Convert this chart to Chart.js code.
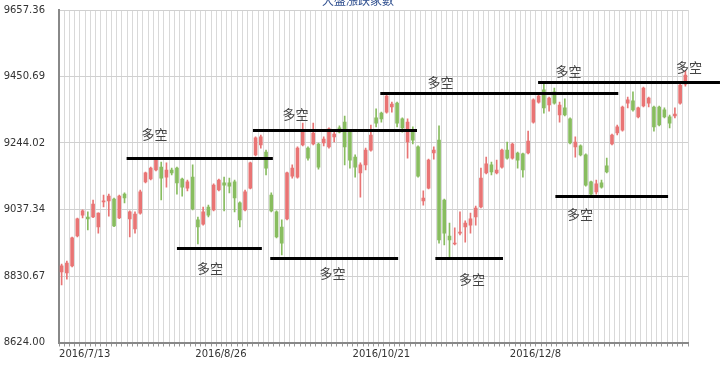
<!DOCTYPE html>
<html>
<head>
<meta charset="utf-8">
<script src="https://cdn.jsdelivr.net/npm/chart.js@4.4.1/dist/chart.umd.min.js"></script>
<style>
  html, body { margin: 0; padding: 0; background: #fff; }
</style>
</head>
<body>
<canvas id="chart" width="720" height="365"></canvas>
<script>
// daily candles, 120 sessions starting 2016/7/13
const opens  = [8843,8840,8862,8955,9020,9014,9014,8983,9061,9064,9070,9011,9085,9008,8977,9026,9123,9132,9160,9169,
                9138,9160,9166,9132,9104,9138,9005,8992,9045,9036,9098,9120,9120,9123,9058,9036,9104,9207,9238,9216,
                9082,9030,8983,9008,9141,9138,9238,9228,9241,9241,9244,9232,9263,9291,9309,9278,9200,9151,9176,9222,
                9322,9337,9340,9356,9368,9319,9247,9281,9232,9064,9104,9213,9253,9067,8955,8930,8964,8983,8989,9014,
                9045,9151,9176,9151,9169,9222,9197,9213,9210,9213,9309,9371,9409,9362,9403,9331,9353,9319,9232,9235,
                9207,9123,9092,9120,9173,9241,9275,9284,9368,9375,9325,9359,9368,9356,9356,9347,9325,9328,9368,9427]
const highs  = [8868,8877,8952,9011,9036,9030,9067,9027,9082,9085,9073,9082,9089,9033,9030,9098,9154,9169,9197,9185,
                9182,9166,9169,9135,9129,9176,9014,9045,9051,9117,9132,9138,9135,9129,9061,9098,9185,9263,9269,9222,
                9089,9033,9005,9154,9176,9232,9306,9232,9306,9244,9263,9291,9278,9297,9328,9284,9207,9182,9228,9300,
                9350,9340,9393,9371,9371,9322,9319,9294,9235,9095,9194,9232,9297,9070,8995,8980,9030,9002,9026,9048,
                9166,9200,9185,9191,9225,9247,9244,9216,9213,9281,9381,9399,9430,9387,9415,9371,9381,9322,9263,9238,
                9210,9126,9129,9129,9197,9272,9300,9359,9387,9403,9356,9418,9387,9359,9359,9353,9331,9353,9427,9468]
const lows   = [8803,8821,8859,8952,9011,8974,9012,8964,9045,9017,8984,9009,9058,8952,8964,9023,9120,9129,9157,9067,
                9107,9145,9085,9079,9095,9036,8930,8989,9014,9033,9095,9033,9089,9030,8983,9033,9101,9204,9228,9145,
                9030,8949,8896,9005,9135,9135,9235,9191,9238,9163,9235,9228,9247,9275,9176,9166,9138,9076,9160,9219,
                9294,9309,9337,9340,9294,9278,9197,9241,9138,9051,9101,9194,8933,8927,8890,8927,8958,8936,8964,8989,
                9042,9148,9145,9148,9166,9194,9194,9166,9138,9210,9306,9368,9337,9343,9365,9309,9328,9241,9200,9204,
                9110,9082,9085,9104,9151,9238,9269,9281,9353,9343,9322,9356,9356,9281,9297,9322,9291,9322,9365,9421]
const closes = [8862,8871,8949,9008,9033,9008,9054,9026,9064,9079,8986,9079,9073,9030,9023,9092,9151,9166,9191,9135,
                9160,9151,9120,9107,9123,9039,8983,9030,9020,9113,9129,9113,9110,9073,9005,9092,9182,9260,9263,9166,
                9033,8952,8933,9151,9166,9228,9278,9197,9275,9169,9256,9288,9272,9278,9232,9191,9169,9176,9222,9269,
                9306,9319,9390,9365,9306,9291,9309,9253,9141,9073,9191,9222,8943,8964,8943,8933,8967,8995,9008,9042,
                9135,9179,9154,9160,9222,9197,9241,9191,9160,9250,9378,9390,9353,9384,9368,9362,9331,9244,9247,9207,
                9113,9085,9117,9107,9154,9269,9294,9356,9378,9347,9353,9415,9384,9294,9300,9325,9306,9334,9424,9455]

const tickIndex = [0, 26, 56, 86]
const tickText = ['2016/7/13', '2016/8/26', '2016/10/21', '2016/12/8']
const yTicks = [8624.00, 8830.67, 9037.34, 9244.02, 9450.69, 9657.36]

// 多空 levels: start/end session index and price
const levelFrom  = [12.4, 22.0, 36.5, 39.8, 60.8, 71.3, 90.9, 94.2]
const levelTo    = [40.3, 38.2, 67.8, 64.2, 106.2, 84.2, 125.6, 115.7]
const levelValue = [9197, 8918, 9283, 8888, 9398, 8888, 9433, 9080]

const noteIdx   = [17.7, 28.3, 44.6, 51.7, 72.3, 78.3, 96.7, 119.7, 98.9]
const noteValue = [9271, 8855, 9334, 8841, 9433, 8821, 9469, 9479, 9023]
const noteText  = '多空'

const UP = '#e97474'
const DOWN = '#88bd5f'

const labels = opens.map((_, i) => i)
const colors = opens.map((o, i) => closes[i] >= o ? UP : DOWN)
const wicks = lows.map((l, i) => [l, highs[i]])
const bodies = opens.map((o, i) => [Math.min(o, closes[i]), Math.max(o, closes[i])])

const overlay = {
    id: 'overlay',
    afterDatasetsDraw(chart) {
        const {ctx, scales: {x, y}} = chart
        ctx.save()
        ctx.strokeStyle = '#000'
        ctx.lineWidth = 3
        for (let i = 0; i < levelValue.length; i++) {
            const py = Math.round(y.getPixelForValue(levelValue[i])) + 0.5
            ctx.beginPath()
            ctx.moveTo(x.getPixelForValue(levelFrom[i]), py)
            ctx.lineTo(x.getPixelForValue(levelTo[i]), py)
            ctx.stroke()
        }
        ctx.fillStyle = '#444'
        ctx.font = "13px 'Noto Sans CJK TC'"
        ctx.textAlign = 'center'
        ctx.textBaseline = 'middle'
        for (let i = 0; i < noteIdx.length; i++) {
            ctx.fillText(noteText, x.getPixelForValue(noteIdx[i]), y.getPixelForValue(noteValue[i]))
        }
        ctx.restore()
    },
    afterDraw(chart) {
        const {ctx} = chart
        ctx.save()
        ctx.fillStyle = '#2f4f8f'
        ctx.font = "12px 'Noto Sans CJK TC'"
        ctx.textAlign = 'center'
        ctx.textBaseline = 'alphabetic'
        ctx.fillText('大盤漲跌家數', 358, 5)
        ctx.restore()
    }
}

new Chart(document.getElementById('chart'), {
    type: 'bar',
    data: {
        labels,
        datasets: [
            {
                data: bodies,
                backgroundColor: colors,
                barThickness: 3,
                minBarLength: 1,
                grouped: false,
                order: 1
            },
            {
                data: wicks,
                backgroundColor: colors,
                barThickness: 1,
                grouped: false,
                order: 2
            }
        ]
    },
    options: {
        responsive: false,
        animation: false,
        layout: {padding: {top: 0, right: 32, left: 0, bottom: 0}},
        plugins: {
            legend: {display: false},
            tooltip: {enabled: false},
            title: {display: false}
        },
        scales: {
            x: {
                offset: true,
                grid: {offset: true, color: '#d9d9d9', tickLength: 4, tickColor: '#999'},
                border: {color: '#888', width: 2},
                ticks: {
                    autoSkip: false,
                    maxRotation: 0,
                    minRotation: 0,
                    align: 'start',
                    labelOffset: -2.6,
                    padding: 2,
                    color: '#333',
                    font: {family: 'DejaVu Sans', size: 10},
                    callback: (v, i) => {
                        const k = tickIndex.indexOf(i)
                        return k < 0 ? '' : tickText[k]
                    }
                },
                afterFit: s => { s.height = 22.5 }
            },
            y: {
                min: 8624,
                max: 9657.36,
                afterBuildTicks: s => { s.ticks = yTicks.map(v => ({value: v})) },
                afterFit: s => {
                    s.width = 59
                    s.paddingTop = 10
                    s.paddingBottom = 0
                },
                grid: {color: '#d0d0d0', drawTicks: false},
                border: {color: '#888', width: 2},
                ticks: {
                    padding: 14,
                    color: '#333',
                    font: {family: 'DejaVu Sans', size: 10},
                    callback: v => Number(v).toFixed(2)
                }
            }
        }
    },
    plugins: [overlay]
})
</script>
</body>
</html>
